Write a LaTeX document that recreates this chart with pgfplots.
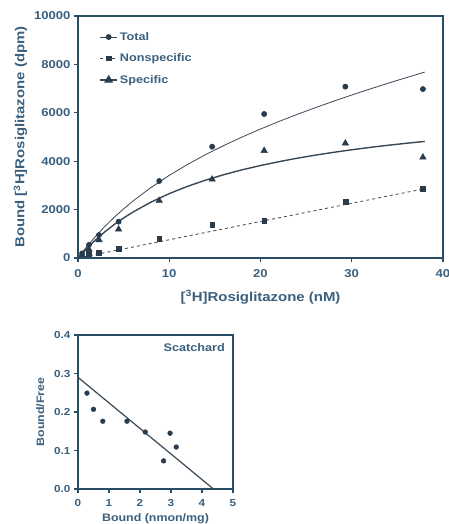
\documentclass[border=0pt]{standalone}
\usepackage{pgfplots}
\pgfplotsset{compat=1.18}
\usepackage{fontspec}
\setmainfont{Liberation Sans}[FakeStretch=1.15]
\definecolor{axcol}{RGB}{40,78,102}
\definecolor{txtcol}{RGB}{58,96,126}
\definecolor{curvecol}{RGB}{58,72,86}
\definecolor{markcol}{RGB}{42,60,76}
\pgfplotsset{
  myax/.style={
    scale only axis,
    axis line style={axcol, line width=1.3pt},
    tick style={axcol, line width=1.1pt},
    tick align=outside,
    xtick pos=bottom, ytick pos=left,
    major tick length=4pt,
    /pgf/number format/assume math mode=true,
    tick label style={text=txtcol},
    label style={text=txtcol},
    clip=false,
  }
}
\begin{document}
\begin{tikzpicture}
\useasboundingbox (0,0) rectangle (449pt,524pt);
\begin{axis}[myax,
  at={(78pt,266pt)}, anchor=south west,
  width=365pt, height=242pt,
  xmin=0, xmax=40, ymin=0, ymax=10000,
  xtick={0,10,20,30,40}, ytick={0,2000,4000,6000,8000,10000},
  scaled y ticks=false,
  tick label style={font=\bfseries\fontsize{11.4}{13}\selectfont},
  xticklabel style={yshift=-4pt},
  label style={font=\bfseries\fontsize{13}{15}\selectfont},
  yticklabel style={/pgf/number format/1000 sep={}},
  xlabel={[\textsuperscript{3}H]Rosiglitazone (nM)},
  ylabel={Bound [\textsuperscript{3}H]Rosiglitazone (dpm)},
  xlabel style={yshift=-6pt},
  ylabel style={yshift=0pt},
  legend style={at={(0.05,0.95)}, anchor=north west, draw=none, fill=none,
    font=\bfseries\fontsize{11}{13}\selectfont, text=txtcol, row sep=8pt},
  legend cell align=left,
]
% Total
\addplot[curvecol, line width=0.8pt, mark=*, mark size=2.5pt,
  mark options={fill=markcol, draw=markcol}, only marks, forget plot]
  coordinates {(0.45,190) (1.2,540) (2.3,950) (4.45,1500) (8.9,3180) (14.7,4600) (20.4,5950) (29.3,7080) (37.8,6980)};
\addplot[curvecol, line width=0.8pt, forget plot] coordinates {
(0,0) (0.5,250) (1,486) (2,926) (3,1326) (4,1693) (5,2031) (6,2345) (8,2912) (10,3414) (12,3865) (14,4275) (16,4651) (18,5002) (20,5329) (22,5638) (24,5931) (26,6210) (28,6477) (30,6734) (32,6983) (34,7223) (36,7455) (38,7683)};
\addlegendimage{curvecol, line width=0.8pt, mark=*, mark size=2.5pt, mark options={fill=markcol, draw=markcol}}
\addlegendentry{Total}
% Nonspecific
\addplot[curvecol, mark=square*, mark size=2.4pt,
  mark options={fill=markcol, draw=markcol}, only marks, forget plot]
  coordinates {(1.2,165) (2.3,230) (4.45,370) (8.9,810) (14.7,1360) (20.4,1540) (29.3,2340) (37.8,2850)};
\addplot[curvecol, line width=0.8pt, dashed, forget plot] coordinates {(0,0) (38,2865)};
\addlegendimage{curvecol, line width=0.8pt, dashed, mark=square*, mark size=2.4pt, mark options={fill=markcol, draw=markcol, solid}}
\addlegendentry{Nonspecific}
% Specific
\addplot[curvecol, mark=triangle*, mark size=3.8pt,
  mark options={fill=markcol, draw=markcol}, only marks, forget plot]
  coordinates {(0.45,120) (1.2,360) (2.3,745) (4.45,1185) (8.9,2370) (14.7,3250) (20.4,4435) (29.3,4740) (37.8,4160)};
\addplot[curvecol, line width=1.4pt, forget plot] coordinates {
(0,0) (0.5,212) (1,411) (2,775) (3,1100) (4,1391) (5,1654) (6,1893) (8,2309) (10,2660) (12,2960) (14,3219) (16,3445) (18,3645) (20,3821) (22,3979) (24,4121) (26,4250) (28,4366) (30,4472) (32,4570) (34,4659) (36,4741) (38,4818)};
\addlegendimage{curvecol, line width=1.4pt, mark=triangle*, mark size=3.8pt, mark options={fill=markcol, draw=markcol}}
\addlegendentry{Specific}
\end{axis}
\begin{axis}[myax,
  at={(78pt,35pt)}, anchor=south west,
  width=155pt, height=154pt,
  xmin=0, xmax=5, ymin=0, ymax=0.4,
  xtick={0,1,2,3,4,5}, ytick={0,0.1,0.2,0.3,0.4},
  tick label style={font=\bfseries\fontsize{10.2}{12}\selectfont},
  xticklabel style={yshift=-3pt},
  label style={font=\bfseries\fontsize{10.8}{12}\selectfont},
  yticklabel style={/pgf/number format/.cd, fixed, fixed zerofill, precision=1},
  xlabel={Bound (nmon/mg)},
  ylabel={Bound/Free},
  xlabel style={yshift=0pt},
  ylabel style={yshift=3pt},
]
\addplot[only marks, mark=*, mark size=2.4pt, mark options={fill=markcol, draw=markcol}]
  coordinates {(0.29,0.249) (0.5,0.207) (0.8,0.176) (1.58,0.176) (2.17,0.148) (2.76,0.073) (2.97,0.145) (3.17,0.109)};
\addplot[curvecol, line width=1.2pt] coordinates {(0,0.290) (4.37,0)};
\node[anchor=north east, font=\bfseries\fontsize{11}{13}\selectfont, text=txtcol] at (rel axis cs:0.97,0.97) {Scatchard};
\end{axis}
\end{tikzpicture}
\end{document}
